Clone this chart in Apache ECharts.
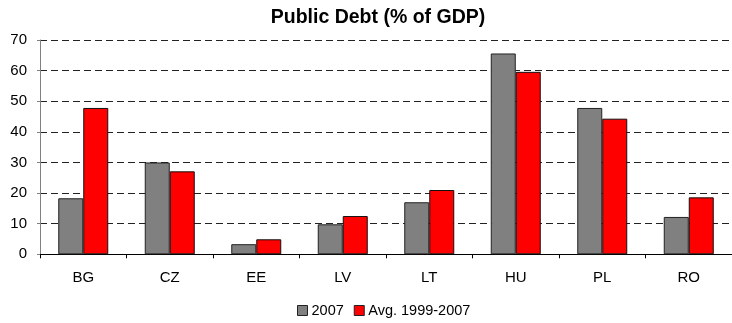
<!DOCTYPE html>
<html>
<head>
<meta charset="utf-8">
<script src="https://cdn.jsdelivr.net/npm/echarts@6/dist/echarts.min.js"></script>
<style>
  html, body { margin: 0; padding: 0; background: #fff; }
  #chart { width: 732px; height: 323px; }
</style>
</head>
<body>
<div id="chart"></div>
<script>
// Public debt by country, % of GDP
const countries = ['BG', 'CZ', 'EE', 'LV', 'LT', 'HU', 'PL', 'RO'];
const debt2007 = [18.3, 30.0, 3.3, 9.8, 17.0, 65.6, 47.8, 12.2];
const debtAvg = [47.8, 27.1, 4.9, 12.5, 21.0, 59.6, 44.3, 18.6];
const seriesNames = ['2007', 'Avg. 1999-2007'];
const yTicks = { min: 0, max: 70, interval: 10 };

const font = 'Liberation Sans, Arial, sans-serif';

const chart = echarts.init(document.getElementById('chart'), null, { renderer: 'canvas' });

chart.setOption({
  animation: false,
  backgroundColor: '#fff',
  title: {
    text: 'Public Debt (% of GDP)',
    left: 373,
    top: 3,
    textAlign: 'center',
    textStyle: { fontFamily: font, fontSize: 19.5, fontWeight: 'bold', color: '#000' }
  },
  legend: {
    data: seriesNames,
    top: 303,
    left: 297,
    padding: 0,
    itemWidth: 10,
    itemHeight: 10,
    itemGap: 10,
    icon: 'rect',
    itemStyle: { borderColor: '#222', borderWidth: 1 },
    textStyle: { fontFamily: font, fontSize: 14.5, color: '#000', padding: [0, 0, 0, -1] }
  },
  grid: { left: 40, top: 40, width: 698, height: 214.3 },
  xAxis: {
    type: 'category',
    data: countries,
    axisLine: { lineStyle: { color: '#000', width: 1 } },
    axisTick: { show: true, length: 4, inside: false, lineStyle: { color: '#000' } },
    axisLabel: { fontFamily: font, fontSize: 15, color: '#000', margin: 16 }
  },
  yAxis: {
    type: 'value',
    min: yTicks.min,
    max: yTicks.max,
    interval: yTicks.interval,
    axisLine: { show: true, lineStyle: { color: '#808080', width: 1 } },
    axisTick: { show: true, length: 3, lineStyle: { color: '#808080' } },
    axisLabel: { fontFamily: font, fontSize: 15, color: '#000', margin: 13 },
    splitLine: { show: true, lineStyle: { color: '#222', type: [7, 4], width: 1 } }
  },
  series: [
    {
      name: seriesNames[0],
      type: 'bar',
      data: debt2007,
      barWidth: 25,
      barGap: '0%',
      itemStyle: { color: '#808080', borderColor: '#222', borderWidth: 1 }
    },
    {
      name: seriesNames[1],
      type: 'bar',
      data: debtAvg,
      barWidth: 25,
      barGap: '0%',
      itemStyle: { color: '#FF0000', borderColor: '#111', borderWidth: 1 }
    }
  ]
});
</script>
</body>
</html>
